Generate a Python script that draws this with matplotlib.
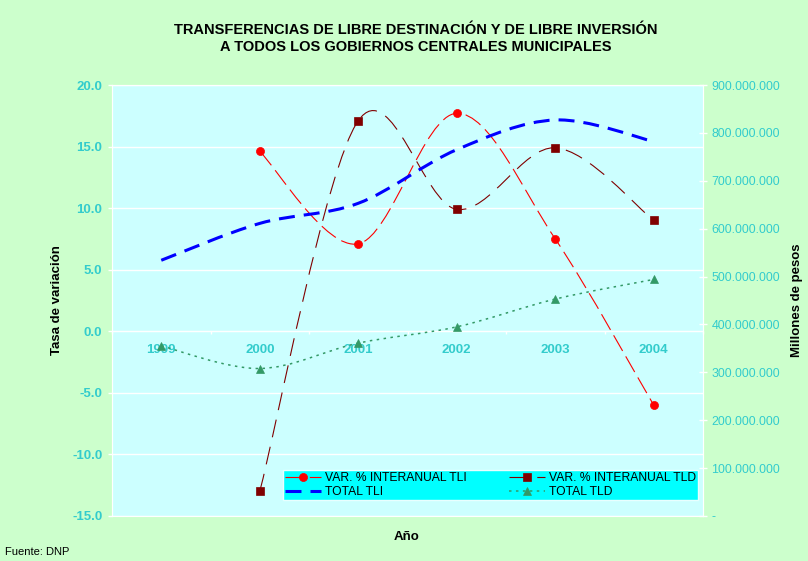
import numpy as np
import matplotlib
matplotlib.use("Agg")
import matplotlib.pyplot as plt
from matplotlib.path import Path
from matplotlib.patches import PathPatch
from matplotlib.lines import Line2D
from matplotlib.ticker import FuncFormatter, FixedLocator, MultipleLocator

plt.rcParams['font.family'] = ['Liberation Sans', 'DejaVu Sans']

# data
years = ['1999', '2000', '2001', '2002', '2003', '2004']
var_tli = [14.6, 7.1, 17.7, 7.5, -6.0]      # 2000-2004
var_tld = [-13.0, 17.1, 9.9, 14.9, 9.0]     # 2000-2004
total_tli = [534e6, 611e6, 653e6, 765e6, 827e6, 782e6]
total_tld = [355e6, 308e6, 361e6, 395e6, 453e6, 494e6]

bg = '#CCFFCC'
plotbg = '#CCFFFF'
tickcol = '#33CCCC'


def smooth_path(xs, ys):
    # excel-like smoothed line: cubic bezier through the points
    pts = list(zip(xs, ys))
    n = len(pts)
    verts = [pts[0]]
    codes = [Path.MOVETO]
    for i in range(n - 1):
        p0 = pts[i - 1] if i > 0 else pts[i]
        p1 = pts[i]
        p2 = pts[i + 1]
        p3 = pts[i + 2] if i + 2 < n else pts[i + 1]
        c1 = (p1[0] + (p2[0] - p0[0]) / 6, p1[1] + (p2[1] - p0[1]) / 6)
        c2 = (p2[0] - (p3[0] - p1[0]) / 6, p2[1] - (p3[1] - p1[1]) / 6)
        verts += [c1, c2, p2]
        codes += [Path.CURVE4] * 3
    return Path(verts, codes)


def dash(on, off, lw):
    # on/off given in points, matplotlib scales dashes by linewidth
    return (0, (on / lw, off / lw))


fig = plt.figure(figsize=(8.08, 5.61), dpi=100, facecolor=bg)
ax = fig.add_axes([112 / 808, 1 - 516 / 561, 591 / 808, 431 / 561])
ax.set_facecolor(plotbg)
ax2 = ax.twinx()

x = np.arange(len(years))
xv = x[1:]

styles = {
    'tli': dict(color='#FF0000', lw=0.8, ls=dash(13, 4.5, 0.8)),
    'tld': dict(color='#800000', lw=0.8, ls=dash(13, 7, 0.8)),
    'ttli': dict(color='#0000FF', lw=2.2, ls=dash(11.5, 6.5, 2.2)),
    'ttld': dict(color='#339966', lw=1.1, ls=dash(1.8, 3.2, 1.1)),
}

# percentage series on the left axis
for ys, key, mk, ms in [(var_tli, 'tli', 'o', 5.8), (var_tld, 'tld', 's', 5.2)]:
    st = styles[key]
    ax.add_patch(PathPatch(smooth_path(xv, ys), fill=False, edgecolor=st['color'],
                           linewidth=st['lw'], linestyle=st['ls'], zorder=3))
    ax.plot(xv, ys, linestyle='none', marker=mk, ms=ms, mew=0.5, color=st['color'], zorder=4)

# totals on the right axis
for ys, key, mk, ms in [(total_tli, 'ttli', None, 0), (total_tld, 'ttld', '^', 5.5)]:
    st = styles[key]
    ax2.add_patch(PathPatch(smooth_path(x, ys), fill=False, edgecolor=st['color'],
                            linewidth=st['lw'], linestyle=st['ls'], zorder=3))
    if mk:
        ax2.plot(x, ys, linestyle='none', marker=mk, ms=ms, mew=0.5, color=st['color'],
                 zorder=4)

ax.set_xlim(-0.5, 5.5)
ax.set_ylim(-15, 20)
ax2.set_ylim(0, 900e6)

# left axis
ax.yaxis.set_major_locator(MultipleLocator(5))
ax.yaxis.set_major_formatter(FuncFormatter(lambda v, p: f'{v:.1f}'))
ax.tick_params(axis='y', colors='white', labelcolor=tickcol, length=3, width=1, pad=4,
               labelsize=9.5)
for lb in ax.get_yticklabels():
    lb.set_fontweight('bold')
ax.grid(axis='y', color='white', lw=1)
ax.set_axisbelow(True)

# category axis crossing at zero
ax.spines['bottom'].set_position(('data', 0))
for s in ax.spines.values():
    s.set_color('white')
for s in ax2.spines.values():
    s.set_color('white')
ax.xaxis.set_major_locator(FixedLocator(np.arange(-0.5, 6, 1)))
ax.xaxis.set_major_formatter(FuncFormatter(lambda v, p: ''))
ax.xaxis.set_minor_locator(FixedLocator(x))
ax.set_xticklabels(years, minor=True)
ax.tick_params(axis='x', which='major', colors='white', length=2.5, width=1, direction='out')
ax.tick_params(axis='x', which='minor', length=0, pad=9, labelcolor=tickcol, labelsize=9.5)
for lb in ax.get_xticklabels(minor=True):
    lb.set_fontweight('bold')

# right axis
ax2.yaxis.set_major_locator(MultipleLocator(100e6))
ax2.yaxis.set_major_formatter(FuncFormatter(
    lambda v, p: '-' if v == 0 else f'{v:,.0f}'.replace(',', '.')))
ax2.tick_params(axis='y', colors='white', labelcolor=tickcol, direction='inout', length=6,
                width=1, pad=3, labelsize=8.9)

# legend
handles = [
    Line2D([], [], color='#FF0000', lw=0.8, ls=dash(13, 4.5, 0.8), marker='o', ms=5.8, mew=0.5),
    Line2D([], [], color='#0000FF', lw=2.2, ls=dash(11.5, 6.5, 2.2)),
    Line2D([], [], color='#800000', lw=0.8, ls=dash(13, 7, 0.8), marker='s', ms=5.2, mew=0.5),
    Line2D([], [], color='#339966', lw=1.1, ls=dash(1.8, 3.2, 1.1), marker='^', ms=5.5, mew=0.5),
]
labels = ['VAR. % INTERANUAL TLI', 'TOTAL TLI', 'VAR. % INTERANUAL TLD', 'TOTAL TLD']
leg = ax2.legend(handles, labels, ncol=2, loc='lower left', mode='expand',
                 bbox_to_anchor=(283 / 808, 1 - 500 / 561, 415 / 808, 31 / 561),
                 bbox_transform=fig.transFigure, borderaxespad=0, fontsize=8.7,
                 handlelength=3.0, handletextpad=0.3, numpoints=1, fancybox=False,
                 framealpha=1, borderpad=0.15, labelspacing=0.2)
leg.get_frame().set_facecolor('#00FFFF')
leg.get_frame().set_edgecolor('#E8FFFF')

# texts
fig.text(416 / 808, 1 - 38.5 / 561,
         'TRANSFERENCIAS DE LIBRE DESTINACIÓN Y DE LIBRE INVERSIÓN\n'
         'A TODOS LOS GOBIERNOS CENTRALES MUNICIPALES',
         ha='center', va='center', fontsize=10.5, fontweight='bold', linespacing=1.3)
fig.text(57 / 808, 1 - 300 / 561, 'Tasa de variación', rotation=90, ha='center',
         va='center', fontsize=9.5, fontweight='bold')
fig.text(797 / 808, 1 - 300 / 561, 'Millones de pesos', rotation=90, ha='center',
         va='center', fontsize=9.5, fontweight='bold')
fig.text(407 / 808, 1 - 537 / 561, 'Año', ha='center', va='center', fontsize=9.5,
         fontweight='bold')
fig.text(5 / 808, 1 - 552 / 561, 'Fuente: DNP', ha='left', va='center', fontsize=8)

fig.savefig('out.png', dpi=100, facecolor=bg)
